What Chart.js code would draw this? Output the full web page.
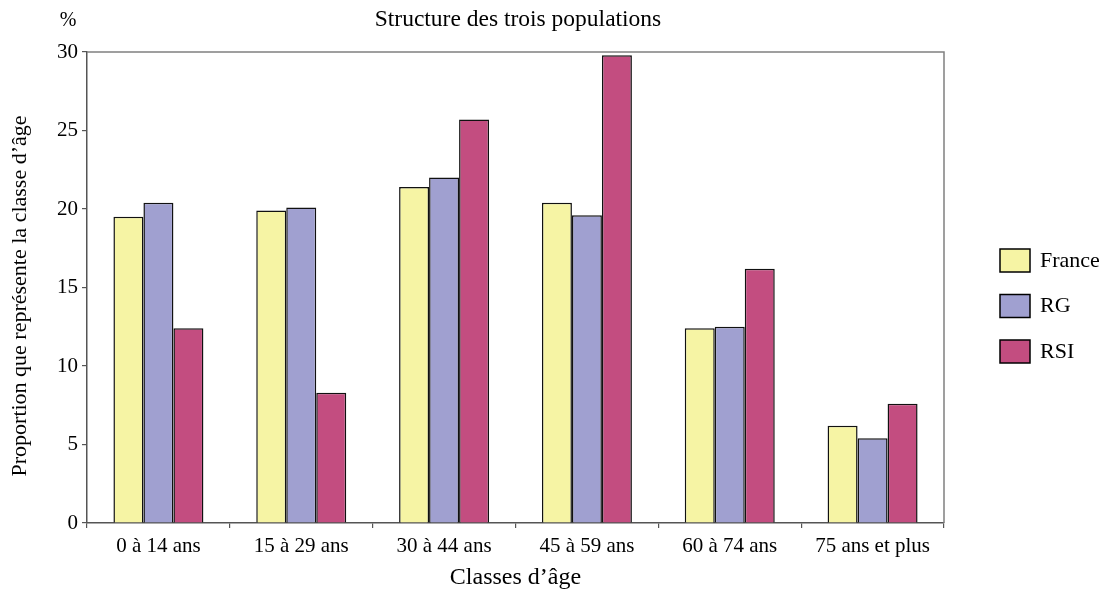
<!DOCTYPE html>
<html>
<head>
<meta charset="utf-8">
<script src="https://cdn.jsdelivr.net/npm/chart.js@4/dist/chart.umd.min.js"></script>
<style>
    body { margin: 0; background: #fff; }
    canvas { display: block; }
</style>
</head>
<body>
<canvas id="popChart" width="1108" height="592"></canvas>
<script>
const ageClasses = ['0 à 14 ans', '15 à 29 ans', '30 à 44 ans', '45 à 59 ans', '60 à 74 ans', '75 ans et plus'];
const france = [19.5, 19.9, 21.4, 20.4, 12.4, 6.2];
const rg = [20.4, 20.1, 22.0, 19.6, 12.5, 5.4];
const rsi = [12.4, 8.3, 25.7, 29.8, 16.2, 7.6];
const seriesNames = ['France', 'RG', 'RSI'];

const FONT = '"Liberation Serif", "Times New Roman", serif';
const colors = ['#f6f4a4', '#a0a0d0', '#c34d80'];

// frame, title, % sign and legend
const extrasPlugin = {
    id: 'extras',
    afterDraw(chart) {
        const ctx = chart.ctx;
        const area = chart.chartArea;
        ctx.save();

        ctx.strokeStyle = '#808080';
        ctx.lineWidth = 1.5;
        ctx.beginPath();
        ctx.moveTo(area.left, area.top);
        ctx.lineTo(area.right, area.top);
        ctx.lineTo(area.right, area.bottom);
        ctx.stroke();

        ctx.fillStyle = '#000';
        ctx.textBaseline = 'middle';
        ctx.font = '23.5px ' + FONT;
        ctx.textAlign = 'center';
        ctx.fillText('Structure des trois populations', 518, 20);
        ctx.font = '20px ' + FONT;
        ctx.fillText('%', 68, 21);

        // y axis title, a bit below the plot centre as in the original
        ctx.save();
        ctx.translate(20, 296);
        ctx.rotate(-Math.PI / 2);
        ctx.font = '22px ' + FONT;
        ctx.fillText('Proportion que représente la classe d\u2019âge', 0, 0);
        ctx.restore();

        ctx.textAlign = 'left';
        ctx.font = '22px ' + FONT;
        chart.data.datasets.forEach((ds, i) => {
            const y = 249 + i * 45.5;
            ctx.fillStyle = ds.backgroundColor;
            ctx.fillRect(1000, y, 30, 23);
            ctx.strokeStyle = '#000';
            ctx.lineWidth = 1.5;
            ctx.strokeRect(1000, y, 30, 23);
            ctx.fillStyle = '#000';
            ctx.fillText(ds.label, 1040, y + 12);
        });
        ctx.restore();
    }
};

new Chart(document.getElementById('popChart'), {
    type: 'bar',
    data: {
        labels: ageClasses,
        datasets: [france, rg, rsi].map((values, i) => ({
            label: seriesNames[i],
            data: values,
            backgroundColor: colors[i],
            borderColor: '#111',
            borderWidth: 1.5,
            borderSkipped: 'bottom',
            categoryPercentage: 0.63,
            barPercentage: 1
        }))
    },
    options: {
        responsive: false,
        animation: false,
        devicePixelRatio: 1,
        layout: { padding: { top: 52, right: 164, left: 0, bottom: 0 } },
        plugins: {
            legend: { display: false },
            title: { display: false },
            tooltip: { enabled: false }
        },
        scales: {
            x: {
                grid: { drawOnChartArea: false, drawTicks: true, tickLength: 5, color: '#555', lineWidth: 1.2 },
                border: { color: '#555', width: 1.5 },
                ticks: { color: '#000', font: { family: FONT, size: 21 }, padding: 6, maxRotation: 0 },
                title: { display: true, text: 'Classes d\u2019âge', color: '#000', font: { family: FONT, size: 24 }, padding: { top: 0, bottom: 0 } },
                afterFit(scale) { scale.height = 69; }
            },
            y: {
                min: 0,
                max: 30,
                ticks: { stepSize: 5, color: '#000', font: { family: FONT, size: 21 }, padding: 4 },
                grid: { drawOnChartArea: false, drawTicks: true, tickLength: 5, color: '#555', lineWidth: 1.2 },
                border: { color: '#555', width: 1.5 },
                afterFit(scale) { scale.width = 87; }
            }
        }
    },
    plugins: [extrasPlugin]
});
</script>
</body>
</html>
